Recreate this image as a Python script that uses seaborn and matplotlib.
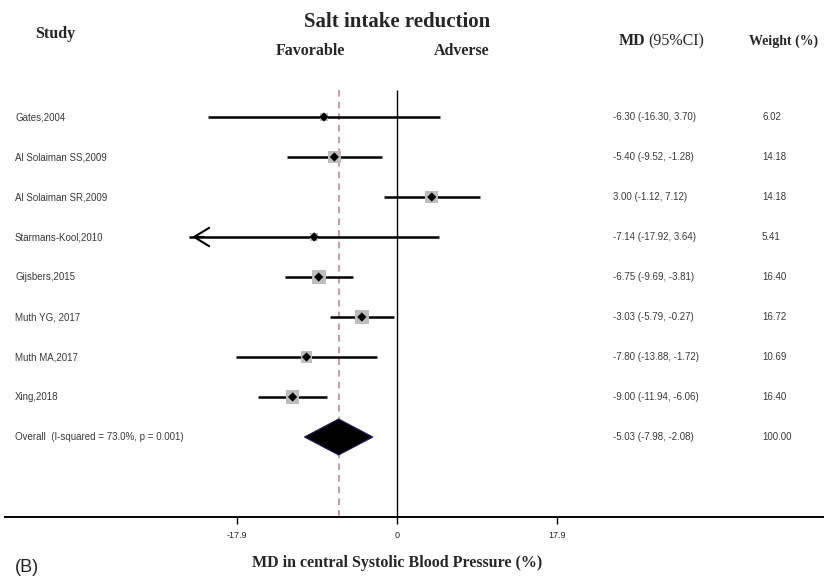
import numpy as np
import pandas as pd
import matplotlib
matplotlib.use("Agg")
import matplotlib.pyplot as plt
import seaborn as sns

studies = ["Gates,2004", "Al Solaiman SS,2009", "Al Solaiman SR,2009",
           "Starmans-Kool,2010", "Gijsbers,2015", "Muth YG, 2017",
           "Muth MA,2017", "Xing,2018"]
md = [-6.30, -5.40, 3.00, -7.14, -6.75, -3.03, -7.80, -9.00]
lo = [-16.30, -9.52, -1.12, -17.92, -9.69, -5.79, -13.88, -11.94]
hi = [3.70, -1.28, 7.12, 3.64, -3.81, -0.27, -1.72, -6.06]
weights = [6.02, 14.18, 14.18, 5.41, 16.40, 16.72, 10.69, 16.40]
overall_label = "Overall  (I-squared = 73.0%, p = 0.001)"
overall_md, overall_lo, overall_hi, overall_w = -5.03, -7.98, -2.08, 100.00
tick_pos = [-13.8, 0.0, 13.8]
tick_labels = ["-17.9", "0", "17.9"]
clip_left = -17.9

sns.set_theme(style="white")
plt.rcParams["font.family"] = ["Liberation Sans", "DejaVu Sans"]

W, H = 824, 577
fig = plt.figure(figsize=(W / 100, H / 100), dpi=100)
ax = fig.add_axes([0, 0, 1, 1])

px_per_unit = 11.6
x0 = 397
ax.set_xlim(-x0 / px_per_unit, (W - x0) / px_per_unit)
row0, row_h = 117, 40
ax.set_ylim((H - row0) / row_h, (0 - row0) / row_h)
ax.axis("off")

df = pd.DataFrame({"study": studies, "md": md, "lo": lo, "hi": hi,
                   "w": weights})
df["row"] = np.arange(len(df))
df["lo_draw"] = np.maximum(df["lo"], clip_left)

axis_row = (517 - row0) / row_h
top_row = (90 - row0) / row_h

# reference lines
ax.vlines(0, top_row, axis_row, color="black", lw=1.0, zorder=1)
ax.vlines(overall_md, top_row, axis_row, color="#c48a92", lw=1.2,
          linestyles=(0, (4, 3)), zorder=1)

# CI lines
ax.hlines(df["row"], df["lo_draw"], df["hi"], color="black", lw=1.8, zorder=2)
for _, r in df[df["lo"] < clip_left].iterrows():
    ax.annotate("", xy=(r["lo_draw"], r["row"]),
                xytext=(r["lo_draw"] + 1.5, r["row"]),
                arrowprops=dict(arrowstyle="->,head_length=0.9,head_width=0.55",
                                color="black", lw=1.5), zorder=3)

# weight squares (area proportional to weight)
k = 3.4 * 0.72
sns.scatterplot(data=df, x="md", y="row", size="w",
                sizes=((k * np.sqrt(min(weights))) ** 2,
                       (k * np.sqrt(max(weights))) ** 2),
                marker="s", color="#bdbdbd", edgecolor="none", legend=False,
                ax=ax, zorder=3)
sns.scatterplot(data=df, x="md", y="row", marker="D", color="black",
                s=22, edgecolor="none", legend=False, ax=ax, zorder=4)

# overall diamond
orow = len(df)
dh = 0.45
ax.fill([overall_lo, overall_md, overall_hi, overall_md],
        [orow, orow - dh, orow, orow + dh], facecolor="black",
        edgecolor="#202060", lw=0.8, zorder=4)

# x axis
ax.hlines(axis_row, ax.get_xlim()[0] + 0.35, ax.get_xlim()[1], color="black",
          lw=1.4, zorder=2)
tick_len = 7 / row_h
for tp, tl in zip(tick_pos, tick_labels):
    ax.vlines(tp, axis_row, axis_row + tick_len, color="black", lw=1.0)
    ax.text(tp, (536 - row0) / row_h, tl, ha="center", va="center",
            fontsize=6.5, color="#222222")

# study labels and values
txtc = "#3a3a3a"
labels_all = studies + [overall_label]
mds = md + [overall_md]
los = lo + [overall_lo]
his = hi + [overall_hi]
ws = weights + [overall_w]
xl = ax.get_xlim()
def xd(px):
    return xl[0] + px / W * (xl[1] - xl[0])
for i, (lab, m, l, h, w) in enumerate(zip(labels_all, mds, los, his, ws)):
    ax.text(xd(15), i, lab, ha="left", va="center", fontsize=7, color=txtc)
    ax.text(xd(613), i, f"{m:.2f} ({l:.2f}, {h:.2f})", ha="left",
            va="center", fontsize=7, color=txtc)
    ax.text(xd(762), i, f"{w:.2f}", ha="left", va="center", fontsize=7,
            color=txtc)

# headers
serif = ["Liberation Serif", "DejaVu Serif"]
def yd(py):
    return (py - row0) / row_h
ax.text(0, yd(22), "Salt intake reduction", ha="center", va="center",
        fontsize=15, fontweight="bold", family=serif)
ax.text(xd(55), yd(34), "Study", ha="center", va="center", fontsize=11.5,
        fontweight="bold", family=serif)
ax.text(xd(310), yd(51), "Favorable", ha="center", va="center", fontsize=11.5,
        fontweight="bold", family=serif)
ax.text(xd(462), yd(51), "Adverse", ha="center", va="center", fontsize=11.5,
        fontweight="bold", family=serif)
ax.text(xd(645), yd(41), "MD", ha="right", va="center", fontsize=11.5,
        fontweight="bold", family=serif)
ax.text(xd(648), yd(41), "(95%CI)", ha="left", va="center", fontsize=11.5,
        family=serif)
ax.text(xd(784), yd(41), "Weight (%)", ha="center", va="center", fontsize=10,
        fontweight="bold", family=serif)
ax.text(0, yd(563), "MD in central Systolic Blood Pressure (%)", ha="center",
        va="center", fontsize=11.5, fontweight="bold", family=serif)
ax.text(xd(27), yd(568), "(B)", ha="center", va="center", fontsize=13,
        color="#222222")

fig.savefig("out.png", dpi=100, facecolor="white")
